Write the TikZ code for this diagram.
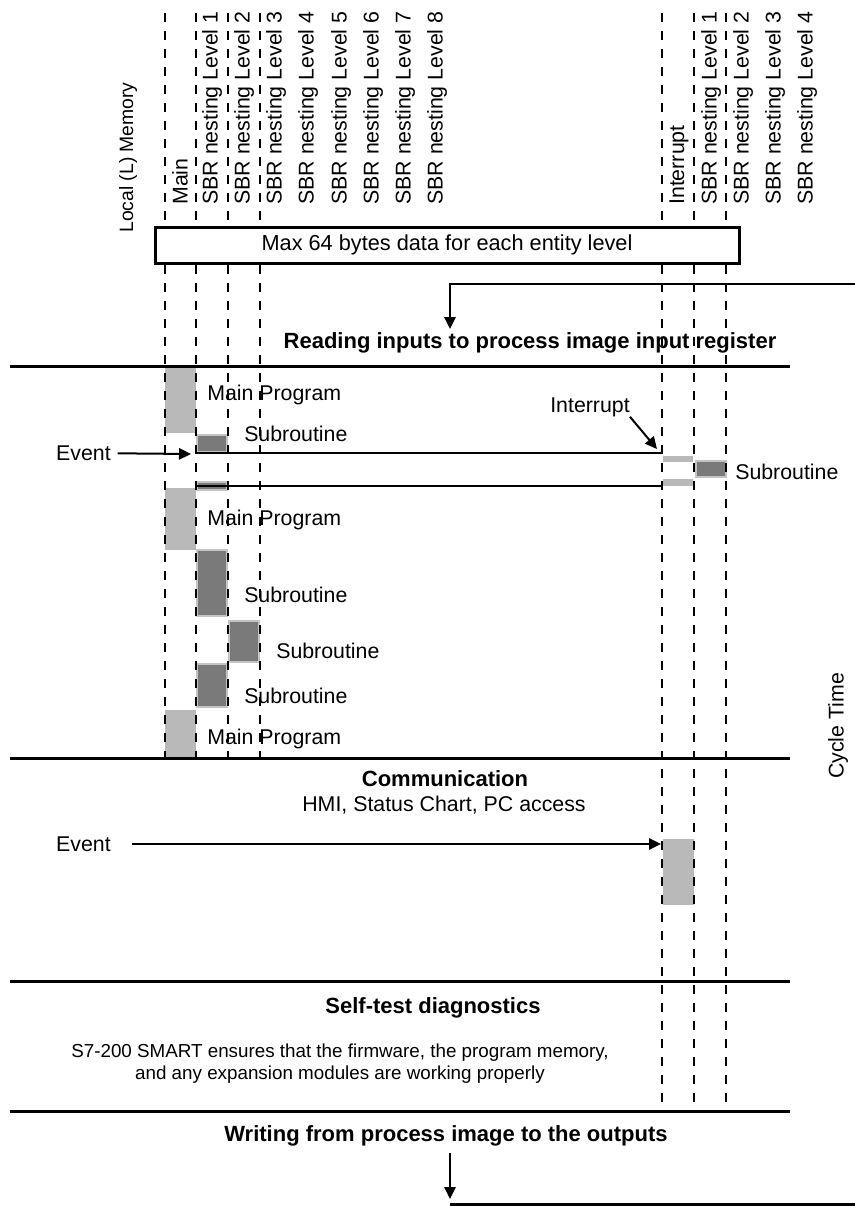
\documentclass[tikz,border=0pt]{standalone}
\usepackage{fontspec}
\setmainfont{Liberation Sans}
\usetikzlibrary{arrows.meta,positioning,calc}
\definecolor{mainfill}{RGB}{185,185,185}
\definecolor{subfill}{RGB}{122,122,122}
\definecolor{subedge}{RGB}{196,196,196}
\tikzset{
  txt/.style={inner sep=0pt, font=\fontsize{16}{19}\selectfont},
  hdr/.style={inner sep=0pt, font=\fontsize{16.5}{19}\selectfont\bfseries},
  note/.style={inner sep=0pt, align=center, font=\fontsize{14.1}{16.5}\selectfont},
  collbl/.style={txt, rotate=90, anchor=west},
  lane/.style={line width=1.7pt, dash pattern=on 7pt off 6.5pt},
  sect/.style={line width=2.25pt},
  irqline/.style={line width=1.5pt},
  ar/.style={-{Triangle[length=9pt,width=8.5pt]}, line width=1.5pt},
  mainrun/.style={fill=mainfill},
  subrun/.style={fill=subfill, draw=subedge, line width=1.2pt},
  membox/.style={rectangle, draw=black, line width=2.25pt, fill=white, txt,
                 font=\fontsize{16.3}{19}\selectfont,
                 minimum width=438pt, minimum height=27pt},
}

\begin{document}
\begin{tikzpicture}[x=0.75pt, y=-0.75pt]
  \useasboundingbox (0,0) rectangle (855,1206);

  % ============ runs of the program levels ============
  \fill[mainrun] (165,366) rectangle (196,433);
  \draw[subrun]  (197,435) rectangle (227,452);
  \draw[subrun]  (197,482) rectangle (227,490);
  \fill[mainrun] (165,488) rectangle (196,550);
  \draw[subrun]  (197,550) rectangle (227,616);
  \draw[subrun]  (229,621) rectangle (259,662);
  \draw[subrun]  (197,664) rectangle (227,707);
  \fill[mainrun] (165,710) rectangle (196,758);

  % interrupt level
  \fill[mainrun] (663,456) rectangle (693,462);
  \fill[mainrun] (663,479) rectangle (693,486);
  \draw[subrun]  (696,461) rectangle (726,477);
  \fill[mainrun] (663,839) rectangle (694,905);

  % ============ level lanes ============
  \draw[lane] (165,13) -- (165,758);
  \draw[lane] (196,13) -- (196,758);
  \draw[lane] (228,13) -- (228,758);
  \draw[lane] (260,13) -- (260,758);
  \draw[lane] (662,13) -- (662,1103);
  \draw[lane] (694,13) -- (694,1103);
  \draw[lane] (726,13) -- (726,1103);

  % ============ column heads ============
  \node[collbl, font=\fontsize{14.5}{17}\selectfont] (cLocal) at (128,233) {Local (L) Memory};
  \node[collbl] (cMain) at (180,205) {Main};
  \node[collbl] (cSbr1) at (212,205) {SBR nesting Level 1};
  \node[collbl] (cSbr2) at (244,205) {SBR nesting Level 2};
  \node[collbl] (cSbr3) at (276,205) {SBR nesting Level 3};
  \node[collbl] (cSbr4) at (308,205) {SBR nesting Level 4};
  \node[collbl] (cSbr5) at (341,205) {SBR nesting Level 5};
  \node[collbl] (cSbr6) at (373,205) {SBR nesting Level 6};
  \node[collbl] (cSbr7) at (405,205) {SBR nesting Level 7};
  \node[collbl] (cSbr8) at (437,205) {SBR nesting Level 8};
  \node[collbl] (cIrq)  at (679,205) {Interrupt};
  \node[collbl] (cIsb1) at (711,205) {SBR nesting Level 1};
  \node[collbl] (cIsb2) at (743,205) {SBR nesting Level 2};
  \node[collbl] (cIsb3) at (775,205) {SBR nesting Level 3};
  \node[collbl] (cIsb4) at (807,205) {SBR nesting Level 4};

  \node[membox] (mem) at (447,245) {Max 64 bytes data for each entity level};

  % ============ read inputs ============
  \coordinate (inR) at (855,284);
  \coordinate (inL) at (450,284);
  \coordinate (inT) at (450,329);
  \draw[ar] (inR) -- (inL) -- (inT);
  \node[hdr] (rd) at (530,343) {Reading inputs to process image input register};
  \draw[sect] (10,366) -- (790,366);

  % ============ program execution ============
  \node[txt, anchor=west] (lMain1) at (207,395) {Main Program};
  \node[txt, anchor=west] (lSub1)  at (244,434) {Subroutine};
  \node[txt, anchor=east] (lEv1)   at (111,453) {Event};
  \coordinate (ev1T) at (191,454);
  \draw[ar, shorten <=5pt] (lEv1) -- (ev1T);

  \draw[irqline] (196,453) -- (662,453);
  \draw[irqline] (196,486) -- (662,486);
  \node[txt] (lIrq) at (590,407) {Interrupt};
  \coordinate (irqT) at (657,449);
  \draw[ar] (lIrq.south east) -- (irqT);
  \node[txt, anchor=west] (lSubI) at (735,472) {Subroutine};

  \node[txt, anchor=west] (lMain2) at (207,520) {Main Program};
  \node[txt, anchor=west] (lSub2)  at (244,595) {Subroutine};
  \node[txt, anchor=west] (lSub3)  at (276,651) {Subroutine};
  \node[txt, anchor=west] (lSub4)  at (244,696) {Subroutine};
  \node[txt, anchor=west] (lMain3) at (207,739) {Main Program};
  \draw[sect] (10,758) -- (790,758);

  \node[txt, rotate=90] (cyc) at (838,726) {Cycle Time};

  % ============ communication ============
  \node[hdr] (comm) at (445,779) {Communication};
  \node[txt] (commsub) at (444,805) {HMI, Status Chart, PC access};
  \node[txt, anchor=east] (lEv2) at (111,844) {Event};
  \coordinate (ev2T) at (661,844);
  \draw[ar, shorten <=16pt] (lEv2) -- (ev2T);
  \draw[sect] (10,981) -- (790,981);

  % ============ self-test ============
  \node[hdr] (selft) at (433,1008) {Self-test diagnostics};
  \node[note] (selfd) at (340,1064)
    {S7-200 SMART ensures that the firmware, the program memory,\\
     and any expansion modules are working properly};
  \draw[sect] (10,1111) -- (790,1111);

  % ============ write outputs ============
  \node[hdr] (wrt) at (446,1136) {Writing from process image to the outputs};
  \coordinate (outA) at (450,1153);
  \coordinate (outB) at (450,1199);
  \draw[ar] (outA) -- (outB);
  \draw[sect] (450,1204) -- (855,1204);

\end{tikzpicture}
\end{document}
